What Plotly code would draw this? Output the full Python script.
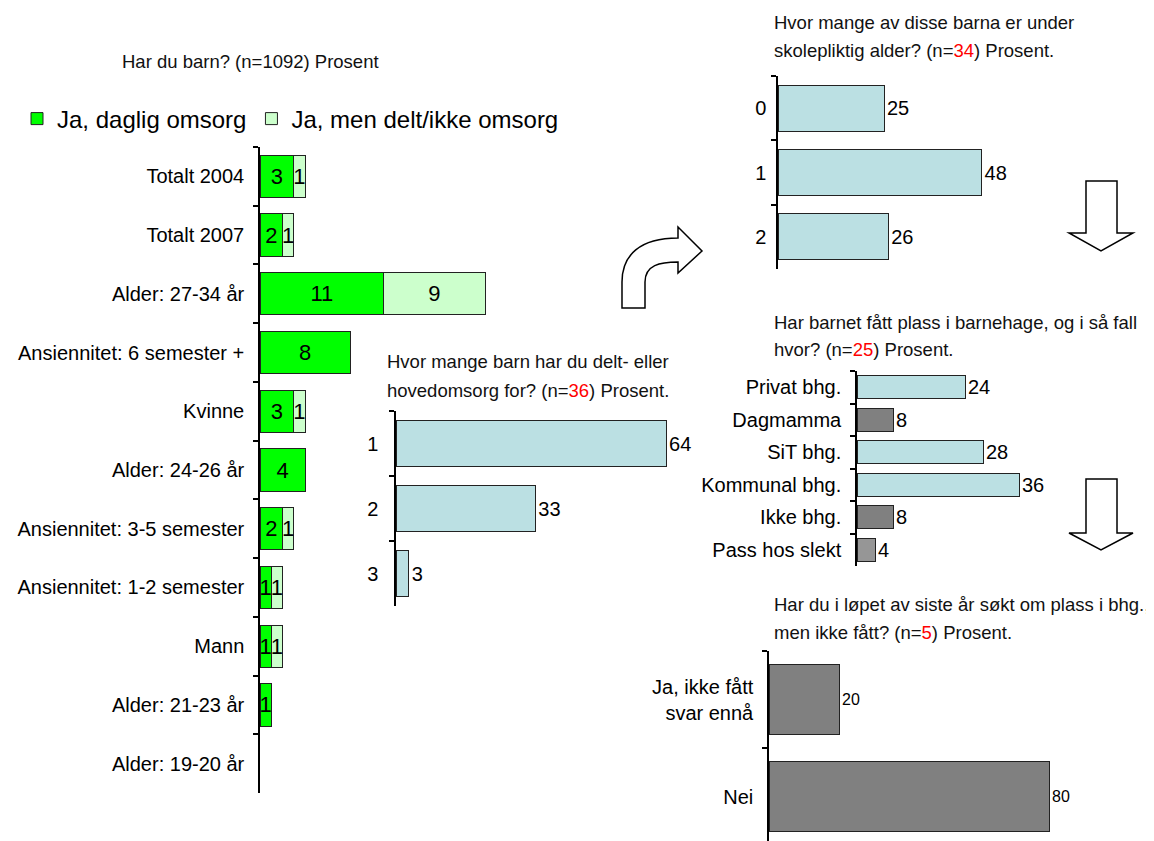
import plotly.graph_objects as go

W, H = 1154, 841

# ---------------- DATA ----------------
left_title = ["Har du barn? (n=1092) Prosent"]
left_categories = ["Totalt 2004", "Totalt 2007", "Alder: 27-34 år", "Ansiennitet: 6 semester +",
                   "Kvinne", "Alder: 24-26 år", "Ansiennitet: 3-5 semester",
                   "Ansiennitet: 1-2 semester", "Mann", "Alder: 21-23 år", "Alder: 19-20 år"]
daglig = [3, 2, 11, 8, 3, 4, 2, 1, 1, 1, None]
delt = [1, 1, 9, None, 1, None, 1, 1, 1, None, None]
series_names = ["Ja, daglig omsorg", "Ja, men delt/ikke omsorg"]

antall_title = ["Hvor mange barn har du delt- eller",
                "hovedomsorg for? (n=<span style='color:red'>36</span>) Prosent."]
antall_categories = ["1", "2", "3"]
antall_values = [64, 33, 3]

under_title = ["Hvor mange av disse barna er under",
               "skolepliktig alder? (n=<span style='color:red'>34</span>) Prosent."]
under_categories = ["0", "1", "2"]
under_values = [25, 48, 26]

bhg_title = ["Har barnet fått plass i barnehage, og i så fall",
             "hvor? (n=<span style='color:red'>25</span>) Prosent."]
bhg_categories = ["Privat bhg.", "Dagmamma", "SiT bhg.", "Kommunal bhg.", "Ikke bhg.", "Pass hos slekt"]
bhg_values = [24, 8, 28, 36, 8, 4]

sokt_title = ["Har du i løpet av siste år søkt om plass i bhg.,",
              "men ikke fått? (n=<span style='color:red'>5</span>) Prosent."]
sokt_categories = ["Ja, ikke fått<br>svar ennå", "Nei"]
sokt_values = [20, 80]

# ---------------- STYLE ----------------
ARIAL = "Liberation Sans, Arial, sans-serif"
GREEN = "#00FF00"
LIGHTGREEN = "#CCFFCC"
LIGHTBLUE = "#BBE0E3"
DARKGRAY = "#808080"
MIDGRAY = "#969696"
EDGE = "#222222"
bhg_colors = [LIGHTBLUE, DARKGRAY, LIGHTBLUE, LIGHTBLUE, DARKGRAY, MIDGRAY]

OFF = 8  # page body margin offset


def fx(px):
    return (px - OFF) / W


def fy(py):
    return 1 - (py - OFF) / H


def lbl(vals):
    return ["" if v is None else str(v) for v in vals]


fig = go.Figure()

# Left stacked chart
for vals, name, col in [(daglig, series_names[0], GREEN), (delt, series_names[1], LIGHTGREEN)]:
    fig.add_trace(go.Bar(
        y=left_categories, x=vals, orientation="h", name=name,
        marker=dict(color=col, line=dict(color=EDGE, width=1)),
        text=lbl(vals), textposition="inside", insidetextanchor="middle",
        constraintext="none", textfont=dict(family=ARIAL, size=22, color="black"),
        xaxis="x", yaxis="y", hoverinfo="skip"))

# Middle chart
fig.add_trace(go.Bar(
    y=antall_categories, x=antall_values, orientation="h", showlegend=False,
    marker=dict(color=LIGHTBLUE, line=dict(color=EDGE, width=1)),
    text=lbl(antall_values), textposition="outside", cliponaxis=False,
    constraintext="none", textfont=dict(family=ARIAL, size=20, color="black"),
    xaxis="x2", yaxis="y2", hoverinfo="skip"))

# Right top chart
fig.add_trace(go.Bar(
    y=under_categories, x=under_values, orientation="h", showlegend=False,
    marker=dict(color=LIGHTBLUE, line=dict(color=EDGE, width=1)),
    text=lbl(under_values), textposition="outside", cliponaxis=False,
    constraintext="none", textfont=dict(family=ARIAL, size=20, color="black"),
    xaxis="x3", yaxis="y3", hoverinfo="skip"))

# Right middle chart
fig.add_trace(go.Bar(
    y=bhg_categories, x=bhg_values, orientation="h", showlegend=False,
    marker=dict(color=bhg_colors, line=dict(color=EDGE, width=1)),
    text=lbl(bhg_values), textposition="outside", cliponaxis=False,
    constraintext="none", textfont=dict(family=ARIAL, size=20, color="black"),
    xaxis="x4", yaxis="y4", hoverinfo="skip"))

# Right bottom chart
fig.add_trace(go.Bar(
    y=sokt_categories, x=sokt_values, orientation="h", showlegend=False,
    marker=dict(color=DARKGRAY, line=dict(color=EDGE, width=1)),
    text=lbl(sokt_values), textposition="outside", cliponaxis=False,
    constraintext="none", textfont=dict(family=ARIAL, size=16, color="black"),
    xaxis="x5", yaxis="y5", hoverinfo="skip"))


def xax(x0, x1, ppu, anchor):
    return dict(domain=[fx(x0), fx(x1)], range=[0, (x1 - x0) / ppu], visible=False,
                anchor=anchor, fixedrange=True)


def yax(y0, y1, cats, anchor, standoff):
    return dict(domain=[fy(y1), fy(y0)], type="category", categoryorder="array",
                categoryarray=cats, autorange="reversed",
                tickson="boundaries", ticks="outside", ticklen=5,
                tickcolor="black", tickwidth=1.5, showline=True, linecolor="black",
                linewidth=1.5, showgrid=False, zeroline=False, anchor=anchor,
                tickfont=dict(family=ARIAL, size=20, color="black"),
                ticklabelstandoff=standoff, fixedrange=True)


fig.update_layout(
    width=W, height=H, autosize=False,
    margin=dict(l=0, r=0, t=0, b=0),
    paper_bgcolor="white", plot_bgcolor="rgba(0,0,0,0)",
    barmode="stack", bargap=0.28,
    font=dict(family=ARIAL, color="black"),
    showlegend=True,
    legend=dict(orientation="h", x=fx(17), y=fy(119), xanchor="left", yanchor="middle",
                font=dict(family=ARIAL, size=24, color="black"),
                bgcolor="rgba(0,0,0,0)", traceorder="normal"),
    xaxis=xax(260, 560, 11.25, "y"),
    yaxis=yax(147, 793, left_categories, "x", 10),
    xaxis2=xax(396, 700, 4.22, "y2"),
    yaxis2=yax(411, 606, antall_categories, "x2", 12),
    xaxis3=xax(778, 1000, 4.24, "y3"),
    yaxis3=yax(76, 269, under_categories, "x3", 6),
    xaxis4=xax(857, 1050, 4.5, "y4"),
    yaxis4=yax(371, 566, bhg_categories, "x4", 10),
    xaxis5=xax(769, 1100, 3.5, "y5"),
    yaxis5=yax(651, 845, sokt_categories, "x5", 10),
)

# Titles (one annotation per line to keep the original line spacing)
titles = [
    (left_title, 120, 62),
    (antall_title, 385, 362),
    (under_title, 772, 23),
    (bhg_title, 772, 322),
    (sokt_title, 772, 604),
]
for lines, x, y in titles:
    for i, txt in enumerate(lines):
        fig.add_annotation(text=txt, x=fx(x), y=fy(y + 28 * i), xref="paper", yref="paper",
                           xanchor="left", yanchor="middle", align="left", showarrow=False,
                           font=dict(family=ARIAL, size=18.5, color="#111111"))


# Decorative arrows
def path(cmds):
    out = []
    for c in cmds:
        out.append(c if isinstance(c, str) else f"{fx(c[0]):.5f},{fy(c[1]):.5f}")
    return " ".join(out)


curved = path(["M", (622, 308), "L", (622, 282), "C", (622, 255), (640, 238), (678, 238),
               "L", (678, 227), "L", (702, 251), "L", (678, 273), "L", (678, 262),
               "C", (660, 262), (645, 265), (645, 282), "L", (645, 308), "Z"])
fig.add_shape(type="path", path=curved, xref="paper", yref="paper",
              line=dict(color="black", width=1.5), fillcolor="white")


def down_arrow(top, shaft_bottom, tip):
    return path(["M", (1086, top), "L", (1117, top), "L", (1117, shaft_bottom),
                 "L", (1133, shaft_bottom), "L", (1101, tip), "L", (1069, shaft_bottom),
                 "L", (1086, shaft_bottom), "Z"])


for t, sb, tp in [(181, 233, 251), (479, 533, 550)]:
    fig.add_shape(type="path", path=down_arrow(t, sb, tp), xref="paper", yref="paper",
                  line=dict(color="black", width=1.5), fillcolor="white")

fig.write_html("out.html")
